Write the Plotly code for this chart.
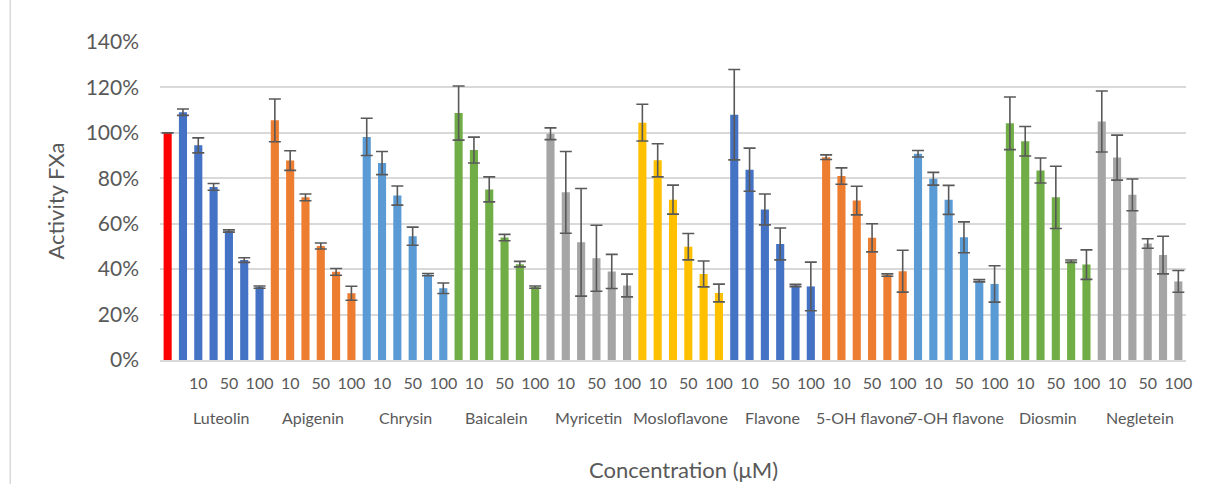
import plotly.graph_objects as go

# Compounds tested, in plotting order, and their bar colours
compounds = ["Luteolin", "Apigenin", "Chrysin", "Baicalein", "Myricetin", "Mosloflavone",
             "Flavone", "5-OH flavone", "7-OH flavone", "Diosmin", "Negletein"]
colors = ["#4472C4", "#ED7D31", "#5B9BD5", "#70AD47", "#A5A5A5", "#FFC000",
          "#4472C4", "#ED7D31", "#5B9BD5", "#70AD47", "#A5A5A5"]

# Concentration tick labels (every second bar labelled)
conc_labels = ["", "10", "", "50", "", "100"]

# Control (100 % activity)
control_value = 100.0
control_color = "#FF0000"

# Mean FXa activity (%) per compound, increasing concentration
luteolin = [109.1, 94.5, 76.2, 56.8, 44.0, 32.1]
apigenin = [105.5, 87.8, 71.6, 50.2, 38.8, 29.4]
chrysin = [98.2, 86.7, 72.4, 54.5, 37.6, 31.6]
baicalein = [108.7, 92.4, 75.1, 53.9, 42.2, 32.1]
myricetin = [99.6, 73.8, 51.8, 44.8, 39.0, 32.8]
mosloflavone = [104.5, 87.9, 70.6, 49.9, 37.9, 29.5]
flavone = [108.0, 83.8, 66.3, 51.1, 32.8, 32.4]
oh5_flavone = [89.3, 81.0, 70.2, 53.8, 37.4, 39.1]
oh7_flavone = [90.8, 79.8, 70.5, 54.0, 34.9, 33.5]
diosmin = [104.2, 96.3, 83.4, 71.6, 43.5, 42.0]
negletein = [105.0, 89.1, 72.7, 51.3, 46.2, 34.6]

# Standard deviations (%)
luteolin_sd = [1.4, 3.3, 1.5, 0.5, 1.0, 0.5]
apigenin_sd = [9.4, 4.3, 1.5, 1.3, 1.5, 3.1]
chrysin_sd = [8.2, 5.1, 4.2, 4.0, 0.5, 2.3]
baicalein_sd = [11.9, 5.7, 5.5, 1.4, 1.2, 0.5]
myricetin_sd = [2.6, 18.0, 23.7, 14.5, 7.5, 5.0]
mosloflavone_sd = [8.1, 7.3, 6.4, 5.8, 5.7, 3.9]
flavone_sd = [19.9, 9.5, 6.8, 7.0, 0.5, 10.7]
oh5_flavone_sd = [1.0, 3.6, 6.3, 6.2, 0.5, 9.2]
oh7_flavone_sd = [1.4, 2.8, 6.4, 6.8, 0.5, 8.0]
diosmin_sd = [11.6, 6.5, 5.5, 13.7, 0.5, 6.5]
negletein_sd = [13.4, 9.9, 7.0, 2.1, 8.3, 4.8]

means = [luteolin, apigenin, chrysin, baicalein, myricetin, mosloflavone,
         flavone, oh5_flavone, oh7_flavone, diosmin, negletein]
sds = [luteolin_sd, apigenin_sd, chrysin_sd, baicalein_sd, myricetin_sd, mosloflavone_sd,
       flavone_sd, oh5_flavone_sd, oh7_flavone_sd, diosmin_sd, negletein_sd]

n_conc = len(conc_labels)
xs = [0]
ys = [control_value / 100]
es = [0]
cs = [control_color]
tickvals = [0]
ticktext = [""]
group_centers = []
for g, (m, s, c) in enumerate(zip(means, sds, colors)):
    start = 1 + g * n_conc
    for i in range(n_conc):
        xs.append(start + i)
        ys.append(m[i] / 100)
        es.append(s[i] / 100)
        cs.append(c)
        if conc_labels[i]:
            tickvals.append(start + i)
            ticktext.append(conc_labels[i])
    group_centers.append(start + (n_conc - 1) / 2)

fig = go.Figure()
fig.add_trace(go.Bar(
    x=xs, y=ys, width=0.53,
    marker=dict(color=cs, line=dict(width=0)),
    error_y=dict(type="data", array=es, visible=True, color="#595959",
                 thickness=1.6, width=6),
    showlegend=False,
))

font_family = "Lato, 'Open Sans', sans-serif"
text_color = "#595959"

for name, cx in zip(compounds, group_centers):
    fig.add_annotation(x=cx, y=-0.182, xref="x", yref="paper", text=name,
                       showarrow=False, yanchor="middle",
                       font=dict(family=font_family, size=16, color=text_color))

fig.add_annotation(x=0.51, y=-0.345, xref="paper", yref="paper",
                   text="Concentration (μM)", showarrow=False, yanchor="middle",
                   font=dict(family=font_family, size=22, color=text_color))

# Chart frame edge on the left
fig.add_shape(type="line", xref="paper", yref="paper",
              x0=-0.146, x1=-0.146, y0=-0.4, y1=1.2,
              line=dict(color="#D9D9D9", width=1.5))

fig.update_layout(
    width=1205, height=484,
    margin=dict(l=160, r=19, t=42, b=124),
    paper_bgcolor="white", plot_bgcolor="white",
    bargap=0.47,
    font=dict(family=font_family, color=text_color),
    xaxis=dict(range=[-0.5, len(xs) - 0.5], tickmode="array",
               tickvals=tickvals, ticktext=ticktext, showgrid=False,
               showline=True, linecolor="#D9D9D9", linewidth=1.5,
               ticks="", ticklabelstandoff=8,
               tickfont=dict(size=16, color=text_color), zeroline=False),
    yaxis=dict(range=[0, 1.4], dtick=0.2, tickformat=".0%",
               gridcolor="#D9D9D9", gridwidth=1.5, zeroline=False,
               ticks="", ticklabelstandoff=20,
               tickfont=dict(size=21, color=text_color),
               title=dict(text="Activity FXa", standoff=14,
                          font=dict(size=22, color=text_color))),
)

fig.write_html("out.html")
